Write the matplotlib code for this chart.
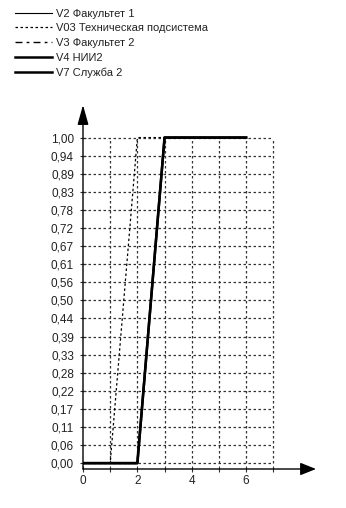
import matplotlib
matplotlib.use("Agg")
import matplotlib.pyplot as plt
from matplotlib.lines import Line2D

# series (x, y)
x_v2 = [0, 2, 3, 6]
y_v2 = [0, 0, 1, 1]
x_v03 = [0, 1, 2, 6]
y_v03 = [0, 0, 1, 1]
x_v3 = [0, 2, 3, 6]
y_v3 = [0, 0, 1, 1]
x_v4 = [0, 2, 3, 6]
y_v4 = [0, 0, 1, 1]
x_v7 = [0, 2, 3, 6]
y_v7 = [0, 0, 1, 1]

labels = ["V2 Факультет 1", "V03 Техническая подсистема", "V3 Факультет 2",
          "V4 НИИ2", "V7 Служба 2"]
y_ticks = [k / 18 for k in range(19)]
y_ticklabels = [("%.2f" % v).replace(".", ",") for v in y_ticks]
x_grid = [1, 2, 3, 4, 5, 6, 7]
x_ticklabels = [0, 2, 4, 6]

plt.rcParams['font.family'] = ['Liberation Sans', 'DejaVu Sans']

fig = plt.figure(figsize=(3.46, 5.08), dpi=100)
ax = fig.add_axes([83 / 346, 39 / 508, 233 / 346, 364 / 508])
ax.set_xlim(0, 8.57)
ax.set_ylim(-0.018, 1.10)

# dotted grid bounded to the data area
grid_kw = dict(color='#333333', linestyle=(0, (2, 2)), linewidth=0.9, zorder=1)
ax.hlines(y_ticks, 0, 7, **grid_kw)
ax.vlines(x_grid, 0, 1, **grid_kw)

styles = [
    dict(color='black', linewidth=0.8, linestyle='-'),
    dict(color='black', linewidth=0.9, linestyle=(0, (2, 2))),
    dict(color='black', linewidth=1.0, linestyle=(0, (5, 3, 2, 3))),
    dict(color='black', linewidth=1.8, linestyle='-'),
    dict(color='black', linewidth=1.8, linestyle='-'),
]
series = [(x_v2, y_v2), (x_v03, y_v03), (x_v3, y_v3), (x_v4, y_v4), (x_v7, y_v7)]
for (xs, ys), st in zip(series, styles):
    ax.plot(xs, ys, zorder=3, **st)

# axes drawn as arrows
for sp in ax.spines.values():
    sp.set_visible(False)
ax.annotate('', xy=(1, 0), xytext=(0, 0), xycoords='axes fraction',
            arrowprops=dict(arrowstyle='-|>,head_length=0.8,head_width=0.32', mutation_scale=12,
                            color='black', lw=1.0, shrinkA=0, shrinkB=0))
ax.annotate('', xy=(0, 1), xytext=(0, 0), xycoords='axes fraction',
            arrowprops=dict(arrowstyle='-|>,head_length=1.0,head_width=0.28', mutation_scale=12,
                            color='black', lw=1.0, shrinkA=0, shrinkB=0))

ax.set_yticks(y_ticks)
ax.set_yticklabels(y_ticklabels)
ax.set_xticks(x_ticklabels)
ax.set_xticks(x_grid, minor=True)
ax.tick_params(axis='both', which='both', direction='inout', length=5, width=0.8,
               color='#333333', labelsize=8.5, labelcolor='#222222')
ax.tick_params(axis='y', pad=4)
ax.tick_params(axis='x', pad=2)

handles = [Line2D([0], [0], **st) for st in styles]
fig.legend(handles, labels, loc='upper left', bbox_to_anchor=(0.023, 0.996),
           frameon=False, fontsize=8, handlelength=3.4, handletextpad=0.36,
           labelspacing=0.42, borderaxespad=0.2, labelcolor='#222222')

fig.savefig("out.png", dpi=100)
